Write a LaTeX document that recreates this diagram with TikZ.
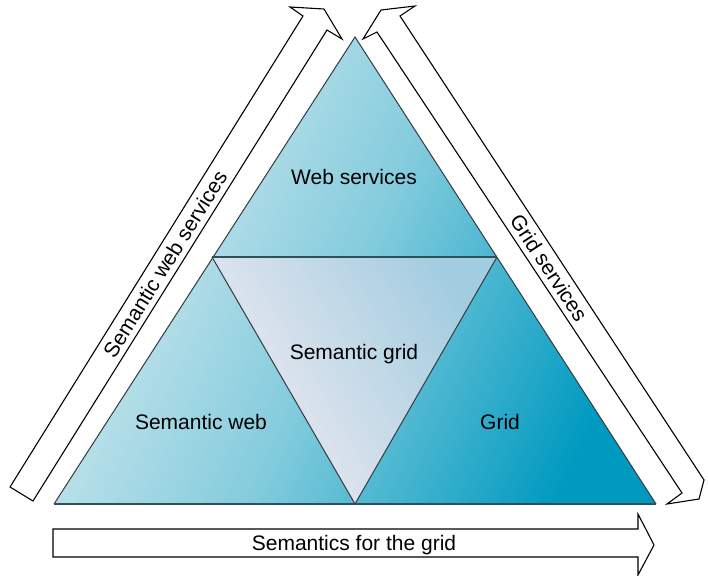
\documentclass[tikz,border=0pt]{standalone}
\usepackage{fontspec}
\setmainfont{Liberation Sans}
\definecolor{tlight}{HTML}{D8EBF0}
\definecolor{tmid}{HTML}{84CCDD}
\definecolor{tdark}{HTML}{009AC0}
\definecolor{ilight}{HTML}{F0EBF2}
\definecolor{iblue}{HTML}{A2CCE0}
\definecolor{edgegray}{HTML}{333B40}
\definecolor{baseline}{HTML}{2F4F5A}
\begin{document}
\begin{tikzpicture}[x=1pt,y=-1pt,
  lbl/.style={font=\fontsize{21}{25}\selectfont, text height=15pt, text depth=0pt, inner sep=0pt},
  arrowbox/.style={draw=black, fill=white, line width=1.1pt, line join=miter},
  edgeline/.style={draw=edgegray, line width=1pt},
  thickline/.style={draw=baseline, line width=2pt}]
\useasboundingbox (0,0) rectangle (708,575);
% main triangle corners
\coordinate (apex) at (355,37);
\coordinate (bl) at (54,504);
\coordinate (br) at (656,504);
\coordinate (il) at (212,257);
\coordinate (ir) at (497,257);
\coordinate (ib) at (355,504);
% outer gradient triangle
\shade[left color=tlight, right color=tdark, middle color=tmid, shading angle=65]
  (apex) -- (br) -- (bl) -- cycle;
% inner inverted triangle
\shade[left color=ilight, right color=iblue, shading angle=120]
  (il) -- (ir) -- (ib) -- cycle;
% edges
\draw[edgeline] (bl) -- (apex) -- (br);
\draw[edgeline] (il) -- (ib) -- (ir);
\draw[thickline] (il) -- (ir);
\draw[thickline] (bl) -- (br);
% left arrow
\draw[arrowbox] (10,487) -- (303,16) -- (290,7) -- (324,9) -- (342,39) -- (327,30) -- (33,501) -- cycle;
% right arrow
\draw[arrowbox] (363,39) -- (381,10) -- (415,6) -- (400,16) -- (704,480) -- (699,499) -- (667,504) -- (682,493) -- (377,32) -- cycle;
% bottom arrow
\draw[arrowbox] (53,529) -- (638,529) -- (638,514) -- (654,545) -- (638,575) -- (638,557) -- (53,557) -- cycle;
% labels
\node[lbl] (ws) at (354,177) {Web services};
\node[lbl] (sg) at (354,352) {Semantic grid};
\node[lbl] (sw) at (201,422) {Semantic web};
\node[lbl] (gr) at (500,422) {Grid};
\node[lbl] (sfg) at (354,543) {Semantics for the grid};
\node[lbl, rotate=58.1] (sws) at (165,264) {Semantic web services};
\node[lbl, rotate=-56.6] (gs) at (549,268) {Grid services};
\end{tikzpicture}
\end{document}
